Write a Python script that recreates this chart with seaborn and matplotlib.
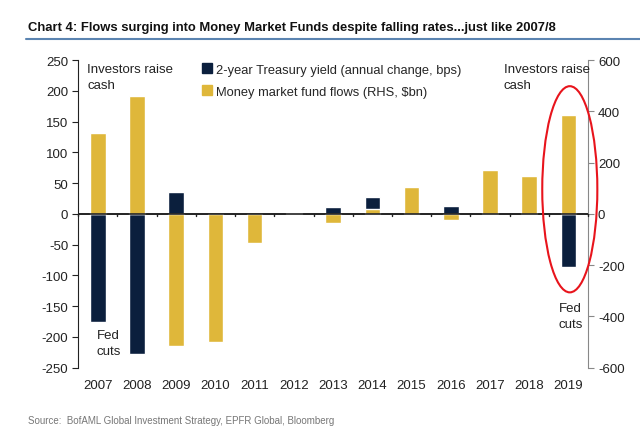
import numpy as np
import matplotlib
matplotlib.use("Agg")
import matplotlib.pyplot as plt
from matplotlib.lines import Line2D
from matplotlib.patches import Ellipse
import matplotlib.transforms as mtransforms
import pandas as pd
import seaborn as sns

years = [str(y) for y in range(2007, 2020)]
yield_chg = [-175, -228, 36, 0, 0, 0, 12, 27, 0, 13, 0, 0, -87]
mmf_flows = [315, 460, -515, -500, -112, 4, -35, 20, 106, -25, 172, 148, 387]

navy = "#0b1f3d"
gold = "#dfb73a"

sns.set_style("white")
plt.rcParams["font.family"] = ["Liberation Sans", "DejaVu Sans"]
plt.rcParams["axes.unicode_minus"] = False

df = pd.DataFrame({"year": years, "yield": yield_chg, "flows": mmf_flows})

fig = plt.figure(figsize=(6.4, 4.39), dpi=100)
ax = fig.add_axes([0.122, 0.16, 0.797, 0.701])
ax2 = ax.twinx()

sns.barplot(data=df, x="year", y="yield", color=navy, saturation=1, width=0.4, ax=ax)
sns.barplot(data=df, x="year", y="flows", color=gold, saturation=1, width=0.4, ax=ax2)

ax.set_xlim(-0.5, len(years) - 0.5)
ax.set_ylim(-250, 250)
ax2.set_ylim(-600, 600)
ax.set_yticks(range(-250, 251, 50))
ax2.set_yticks(range(-600, 601, 200))
ax.set_xlabel("")
ax.set_ylabel("")
ax2.set_ylabel("")

for a in (ax, ax2):
    a.spines["top"].set_visible(False)
    a.spines["bottom"].set_visible(False)
ax.spines["right"].set_visible(False)
ax2.spines["left"].set_visible(False)
ax.spines["left"].set_color("#222222")
ax2.spines["right"].set_color("#888888")

ax.tick_params(axis="y", which="both", left=True, length=4, color="#222222",
               labelsize=9.5, labelcolor="#222222", pad=3, direction="out")
ax2.tick_params(axis="y", right=True, length=4, color="#888888",
                labelsize=9.5, labelcolor="#222222", pad=3, direction="out")

# zero line with boundary ticks
ax.axhline(0, color="#222222", lw=1.2, zorder=5)
ax2.axhline(0, color="#222222", lw=1.2, zorder=5)
ax.tick_params(axis="x", which="major", length=0, labelbottom=False)
trans = mtransforms.blended_transform_factory(ax.transData, ax.transAxes)
for i, y in enumerate(years):
    ax.text(i, -0.035, y, transform=trans, ha="center", va="top",
            fontsize=9.5, color="#222222")
for b in np.arange(-0.5, len(years), 1.0):
    ax2.plot([b, b], [0, -10], color="#222222", lw=1, zorder=5, clip_on=False)

# legend
handles = [Line2D([], [], marker="s", ls="", color=navy, markersize=7),
           Line2D([], [], marker="s", ls="", color=gold, markersize=7)]
labels = ["2-year Treasury yield (annual change, bps)",
          "Money market fund flows (RHS, $bn)"]
ax2.legend(handles, labels, loc="upper left", bbox_to_anchor=(0.22, 1.025),
           frameon=False, fontsize=9.3, handletextpad=0.3, labelspacing=0.75,
           handlelength=0.8)

# annotations
ax2.text(0.018, 0.99, "Investors raise\ncash", transform=ax2.transAxes,
         ha="left", va="top", fontsize=9.5, color="#222222", linespacing=1.45)
ax2.text(0.835, 0.99, "Investors raise\ncash", transform=ax2.transAxes,
         ha="left", va="top", fontsize=9.5, color="#222222", linespacing=1.45)
ax2.text(0.037, 0.125, "Fed\ncuts", transform=ax2.transAxes,
         ha="left", va="top", fontsize=9.5, color="#222222", linespacing=1.45)
ax2.text(0.965, 0.215, "Fed\ncuts", transform=ax2.transAxes,
         ha="center", va="top", fontsize=9.5, color="#222222", linespacing=1.45)

ell = Ellipse((0.964, 0.58), width=0.108, height=0.67, transform=ax2.transAxes,
              fill=False, edgecolor="#e8141c", lw=1.5, clip_on=False, zorder=10)
ax2.add_patch(ell)

# title and source
fig.text(0.044, 0.93, "Chart 4: Flows surging into Money Market Funds despite falling rates...just like 2007/8",
         fontsize=9.4, fontweight="bold", color="#111111")
fig.add_artist(Line2D([0.04, 1.0], [0.908, 0.908], color="#5b84b1", lw=1.5,
                      transform=fig.transFigure))
fig.text(0.044, 0.035, "Source:  BofAML Global Investment Strategy, EPFR Global, Bloomberg",
         fontsize=7, color="#777777")

fig.savefig("out.png", dpi=100)
